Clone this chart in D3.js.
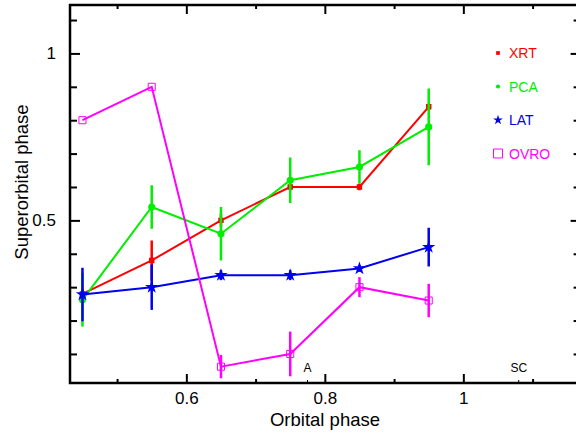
<!DOCTYPE html>
<html>
<head>
<meta charset="utf-8">
<script src="https://cdn.jsdelivr.net/npm/d3@7"></script>
<style>
  body { margin: 0; background: #fff; }
  svg text { font-family: "Liberation Sans", Arial, sans-serif; }
  .axis path { display: none; }
  .axis line { stroke: #000; stroke-width: 2; }
</style>
</head>
<body>
<svg id="chart" width="576" height="434"></svg>
<script>
// phases of the bins
var orbitalPhase = [0.45, 0.55, 0.65, 0.75, 0.85, 0.95];

// superorbital phase per instrument, with errors
var xrtValues = [0.28, 0.38, 0.50, 0.60, 0.60, 0.84];
var xrtErrors = [0.02, 0.06, 0.02, 0.01, 0.01, 0.01];
var pcaValues = [0.262, 0.54, 0.46, 0.62, 0.66, 0.78];
var pcaErrors = [0.08, 0.065, 0.08, 0.068, 0.05, 0.115];
var latValues = [0.278, 0.30, 0.336, 0.336, 0.356, 0.42];
var latErrors = [0.08, 0.068, 0.015, 0.015, 0.01, 0.058];
var ovroValues = [0.80, 0.90, 0.062, 0.10, 0.30, 0.26];
var ovroErrors = [0.0, 0.0, 0.035, 0.067, 0.03, 0.05];

var seriesNames = ["XRT", "PCA", "LAT", "OVRO"];
var seriesColors = ["#ff0000", "#00ee00", "#0000ee", "#ff00ff"];

var xMajor = [0.6, 0.8, 1.0];
var xMinor = [0.5, 0.7, 0.9, 1.1];
var yMajor = [0.5, 1.0];
var yMinor = [0.1, 0.2, 0.3, 0.4, 0.6, 0.7, 0.8, 0.9, 1.1];

// markers along the orbit
var orbitMarks = [{label: "A", phase: 0.775}, {label: "SC", phase: 1.08}];

var svg = d3.select("#chart");

var boxLeft = 70, boxRight = 577.6, boxTop = 5, boxBottom = 383;

var xScale = d3.scaleLinear().domain([0.432, 1.165]).range([boxLeft, boxRight]);
var yScale = d3.scaleLinear().domain([0.013, 1.145]).range([boxBottom, boxTop]);

// ticks, all pointing inward
function addAxis(axis, tx, ty, cls) {
  var g = svg.append("g").attr("class", "axis " + cls)
    .attr("transform", "translate(" + tx + "," + ty + ")")
    .call(axis);
  return g;
}

var bx = addAxis(d3.axisBottom(xScale).tickValues(xMajor).tickSize(-9).tickPadding(9)
  .tickFormat(d3.format("~g")), 0, boxBottom, "xmaj");
bx.selectAll("text").attr("font-size", 17).attr("fill", "#000");
addAxis(d3.axisBottom(xScale).tickValues(xMinor).tickSize(-4).tickFormat(""), 0, boxBottom, "xmin");
addAxis(d3.axisTop(xScale).tickValues(xMajor).tickSize(-9).tickFormat(""), 0, boxTop, "tmaj");
addAxis(d3.axisTop(xScale).tickValues(xMinor).tickSize(-4).tickFormat(""), 0, boxTop, "tmin");

var ly = addAxis(d3.axisLeft(yScale).tickValues(yMajor).tickSize(-10).tickPadding(14)
  .tickFormat(d3.format("~g")), boxLeft, 0, "ymaj");
ly.selectAll("text").attr("font-size", 17).attr("fill", "#000");
addAxis(d3.axisLeft(yScale).tickValues(yMinor).tickSize(-7).tickFormat(""), boxLeft, 0, "ymin");
addAxis(d3.axisRight(yScale).tickValues(yMajor).tickSize(-7).tickFormat(""), boxRight, 0, "rmaj");
addAxis(d3.axisRight(yScale).tickValues(yMinor).tickSize(-4).tickFormat(""), boxRight, 0, "rmin");

// frame
svg.append("rect")
  .attr("x", boxLeft).attr("y", boxTop)
  .attr("width", boxRight - boxLeft).attr("height", boxBottom - boxTop)
  .attr("fill", "none").attr("stroke", "#000").attr("stroke-width", 2.5);

// axis titles
svg.append("text")
  .attr("x", 325).attr("y", 426)
  .attr("text-anchor", "middle").attr("font-size", 18.5)
  .text("Orbital phase");

svg.append("text")
  .attr("transform", "translate(28,182) rotate(-90)")
  .attr("text-anchor", "middle").attr("font-size", 18.5)
  .text("Superorbital phase");

// orbit markers
orbitMarks.forEach(function(m) {
  svg.append("text")
    .attr("x", xScale(m.phase)).attr("y", boxBottom - 11)
    .attr("text-anchor", "middle").attr("font-size", 12)
    .text(m.label);
  svg.append("line")
    .attr("x1", xScale(m.phase)).attr("x2", xScale(m.phase))
    .attr("y1", boxBottom - 3).attr("y2", boxBottom)
    .attr("stroke", "#000").attr("stroke-width", 1);
});

svg.append("clipPath").attr("id", "clip")
  .append("rect").attr("x", boxLeft).attr("y", boxTop)
  .attr("width", boxRight - boxLeft).attr("height", boxBottom - boxTop);
var plot = svg.append("g").attr("clip-path", "url(#clip)");

var line = d3.line()
  .x(function(d) { return xScale(d.x); })
  .y(function(d) { return yScale(d.y); });

function drawSeries(values, errors, color, marker) {
  var pts = orbitalPhase.map(function(p, i) {
    return {x: p, y: values[i], e: errors[i]};
  });
  var g = plot.append("g");
  g.selectAll("line.err").data(pts).enter().append("line")
    .attr("class", "err")
    .attr("x1", function(d) { return xScale(d.x); })
    .attr("x2", function(d) { return xScale(d.x); })
    .attr("y1", function(d) { return yScale(d.y - d.e); })
    .attr("y2", function(d) { return yScale(d.y + d.e); })
    .attr("stroke", color).attr("stroke-width", 2.5);
  g.append("path").datum(pts)
    .attr("d", line)
    .attr("fill", "none").attr("stroke", color).attr("stroke-width", 2);
  var m = g.selectAll("path.mk").data(pts).enter().append("path")
    .attr("class", "mk")
    .attr("transform", function(d) {
      return "translate(" + xScale(d.x) + "," + yScale(d.y) + ")";
    });
  if (marker === "square") {
    m.attr("d", d3.symbol(d3.symbolSquare, 30)).attr("fill", color);
  } else if (marker === "circle") {
    m.attr("d", d3.symbol(d3.symbolCircle, 40)).attr("fill", color);
  } else if (marker === "star") {
    m.attr("d", d3.symbol(d3.symbolStar, 55)).attr("fill", color);
  } else {
    m.attr("d", d3.symbol(d3.symbolSquare, 50))
      .attr("fill", "none").attr("stroke", color).attr("stroke-width", 1);
  }
}

drawSeries(xrtValues, xrtErrors, seriesColors[0], "square");
drawSeries(pcaValues, pcaErrors, seriesColors[1], "circle");
drawSeries(latValues, latErrors, seriesColors[2], "star");
drawSeries(ovroValues, ovroErrors, seriesColors[3], "open");

// legend
var legendMarkers = [
  d3.symbol(d3.symbolSquare, 14), d3.symbol(d3.symbolCircle, 14),
  d3.symbol(d3.symbolStar, 30), d3.symbol(d3.symbolSquare, 80)
];
var legend = svg.append("g");
seriesNames.forEach(function(name, i) {
  var y = 53 + i * 33.5;
  var mk = legend.append("path")
    .attr("transform", "translate(498," + y + ")")
    .attr("d", legendMarkers[i]());
  if (i === 3) {
    mk.attr("fill", "none").attr("stroke", seriesColors[i]).attr("stroke-width", 1);
  } else {
    mk.attr("fill", seriesColors[i]);
  }
  legend.append("text")
    .attr("x", 509).attr("y", y + 5)
    .attr("font-size", 14)
    .attr("fill", seriesColors[i])
    .text(name);
});
</script>
</body>
</html>
